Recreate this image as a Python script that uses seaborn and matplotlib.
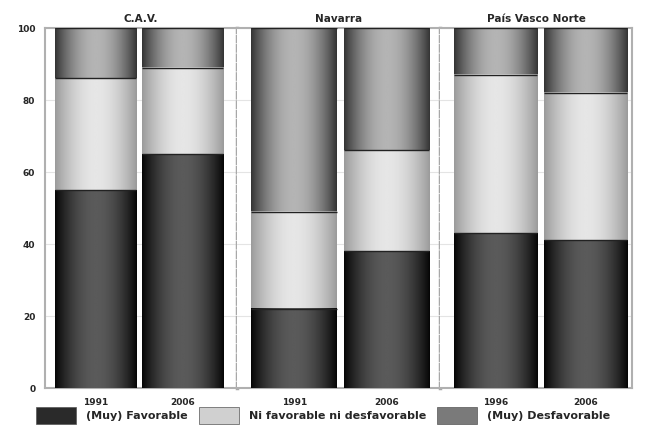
import numpy as np
import pandas as pd
import matplotlib
matplotlib.use("Agg")
import matplotlib.pyplot as plt
from matplotlib.colors import LinearSegmentedColormap
from matplotlib.patches import Patch
import seaborn as sns

regions = ["C.A.V.", "Navarra", "País Vasco Norte"]
years = [["1991", "2006"], ["1991", "2006"], ["1996", "2006"]]
favorable = [[55, 65], [22, 38], [43, 41]]
neutral = [[31, 24], [27, 28], [44, 41]]
desfavorable = [[14, 11], [51, 34], [13, 18]]
series_names = ["(Muy) Favorable", "Ni favorable ni desfavorable", "(Muy) Desfavorable"]
yticks = [0, 20, 40, 60, 80, 100]

# gradient (edge colour, centre colour) per series
shades = {
    "(Muy) Favorable": ("#050505", "#5a5a5a"),
    "Ni favorable ni desfavorable": ("#9a9a9a", "#e6e6e6"),
    "(Muy) Desfavorable": ("#333333", "#b4b4b4"),
}
legend_colors = {
    "(Muy) Favorable": "#2a2a2a",
    "Ni favorable ni desfavorable": "#d0d0d0",
    "(Muy) Desfavorable": "#7a7a7a",
}

sns.set_theme(style="white")
plt.rcParams['font.family'] = ['DejaVu Sans']

fig, axes = plt.subplots(1, 3, sharey=True, figsize=(6.47, 4.41), dpi=100,
                         gridspec_kw={"width_ratios": [192, 203, 192]})
fig.subplots_adjust(left=45/647, right=632/647, top=1-28/441, bottom=1-388/441, wspace=0)

t = np.linspace(0, 1, 200)
profile = np.sin(np.pi * t) ** 0.9
grad = profile[np.newaxis, :]

xlims = [(-0.58, 1.62), (-0.62, 1.58), (-0.62, 1.52)]

for i, ax in enumerate(axes):
    df = pd.DataFrame({
        "year": years[i],
        "fav": favorable[i],
        "neu": neutral[i],
        "des": desfavorable[i],
    })
    df["top_fav"] = df["fav"]
    df["top_neu"] = df["fav"] + df["neu"]
    df["top_des"] = df["fav"] + df["neu"] + df["des"]
    layers = [("top_des", "(Muy) Desfavorable"),
              ("top_neu", "Ni favorable ni desfavorable"),
              ("top_fav", "(Muy) Favorable")]
    for z, (col, name) in enumerate(layers):
        n_before = len(ax.patches)
        sns.barplot(data=df, x="year", y=col, color=legend_colors[name],
                    width=0.93, ax=ax, errorbar=None, saturation=1,
                    linewidth=0, zorder=2 + 2*z)
        cmap = LinearSegmentedColormap.from_list(name, list(shades[name]))
        for p in ax.patches[n_before:]:
            x0, y0 = p.get_x(), p.get_y()
            w, h = p.get_width(), p.get_height()
            ax.imshow(grad, extent=[x0, x0 + w, y0, y0 + h], aspect="auto",
                      cmap=cmap, vmin=0, vmax=1, zorder=3 + 2*z,
                      interpolation="bilinear")
            ax.plot([x0, x0 + w], [y0 + h, y0 + h], color="#222222",
                    lw=1.0, zorder=3.5 + 2*z, solid_capstyle="butt")
    ax.set_xlim(*xlims[i])
    ax.set_ylim(0, 100)
    ax.set_yticks(yticks)
    ax.set_title(regions[i], fontsize=7.5, fontweight="bold", pad=4)
    ax.set_xlabel("")
    ax.set_ylabel("")
    ax.tick_params(axis="x", length=0, labelsize=6.5, pad=7)
    ax.tick_params(axis="y", length=0, labelsize=6.5, pad=7)
    for lab in ax.get_xticklabels() + ax.get_yticklabels():
        lab.set_fontweight("bold")
    ax.grid(axis="y", color="#e4e4e4", lw=0.8, zorder=0)
    ax.set_axisbelow(True)
    for s in ax.spines.values():
        s.set_color("#b0b0b0")
        s.set_linewidth(1.5)
    if i > 0:
        ax.spines["left"].set_visible(False)
    if i < 2:
        ax.spines["right"].set_linestyle((0, (1.5, 1.2)))
        ax.spines["right"].set_color("#a8a8a8")
        ax.spines["right"].set_linewidth(2.5)

handles = [Patch(facecolor=legend_colors[n], edgecolor="#555555", lw=0.5) for n in series_names]
leg = fig.legend(handles, series_names, loc="lower center", ncol=3,
                 bbox_to_anchor=(0.5, 0.015), frameon=False, fontsize=8,
                 handlelength=3.6, handleheight=2.0, columnspacing=1.0,
                 handletextpad=0.9)
for txt in leg.get_texts():
    txt.set_fontweight("bold")

fig.savefig("out.png", dpi=100)
